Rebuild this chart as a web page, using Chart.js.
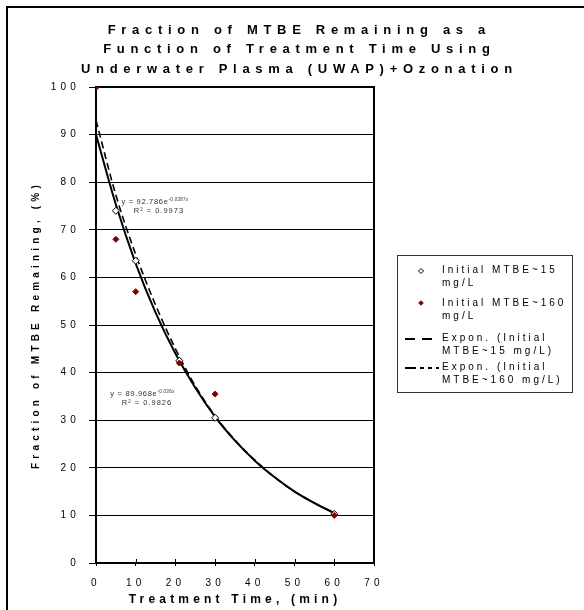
<!DOCTYPE html>
<html><head><meta charset="utf-8">
<script src="https://cdn.jsdelivr.net/npm/chart.js@4.4.1/dist/chart.umd.min.js"></script>
<style>html,body{margin:0;padding:0;background:#fff;}#wrap{position:relative;width:584px;height:610px;}</style>
</head><body><div id="wrap"><canvas id="c" width="584" height="610"></canvas></div>
<script>
// ---- data ----
const titleLines = ['Fraction of MTBE Remaining as a', 'Function of Treatment Time Using', 'Underwater Plasma (UWAP)+Ozonation'];
const xTitle = 'Treatment Time, (min)';
const yTitle = 'Fraction of MTBE Remaining, (%)';
const legendNames = [['Initial MTBE~15', 'mg/L'], ['Initial MTBE~160', 'mg/L'], ['Expon. (Initial', 'MTBE~15 mg/L)'], ['Expon. (Initial', 'MTBE~160 mg/L)']];
const timeLow = [0, 5, 10, 21, 30, 60];
const remainLow = [100, 74, 63.5, 42.5, 30.5, 10.3];
const timeHigh = [0, 5, 10, 21, 30, 60];
const remainHigh = [100, 68, 57, 42, 35.5, 10];
const trendTime = [0, 5, 10, 15, 20, 25, 30, 35, 40, 45, 50, 55, 60];
const trendLow = [93.0, 77.3, 64.8, 54.2, 45.0, 37.2, 30.9, 25.8, 21.6, 18.0, 15.0, 12.6, 10.5];
const trendHigh = [90.0, 75.3, 62.9, 52.6, 44.0, 36.8, 30.7, 25.7, 21.5, 18.0, 15.0, 12.6, 10.5];
const xTicks = [0, 10, 20, 30, 40, 50, 60, 70];
const yTicks = [0, 10, 20, 30, 40, 50, 60, 70, 80, 90, 100];
const eqLow = ['y = 92.786e', '-0.0387x', 'R\u00B2 = 0.9973'];
const eqHigh = ['y = 89.968e', '-0.036x', 'R\u00B2 = 0.9826'];

const FONT = "'Liberation Sans', Arial, sans-serif";
Chart.defaults.font.family = FONT;
Chart.defaults.color = '#000';

const pts = (xs, ys) => xs.map((x, i) => ({x: x, y: ys[i]}));

const spacingPlugin = {
  id: 'spacing',
  beforeUpdate(chart) { chart.ctx.letterSpacing = '4.2px'; },
  beforeDraw(chart) {
    const ctx = chart.ctx;
    ctx.letterSpacing = '4.2px';
    ctx.save(); ctx.fillStyle = '#fff'; ctx.fillRect(0, 0, chart.width, chart.height); ctx.restore();
  }
};

const framePlugin = {
  id: 'frame',
  beforeDatasetsDraw(chart) {
    const {ctx, chartArea: a, scales: {x}} = chart;
    ctx.save();
    ctx.strokeStyle = '#000'; ctx.lineWidth = 2;
    ctx.strokeRect(a.left, a.top, a.right - a.left, a.bottom - a.top);
    ctx.lineWidth = 1;
    x.ticks.forEach(t => {
      const px = Math.round(x.getPixelForValue(t.value)) + 0.5;
      ctx.beginPath(); ctx.moveTo(px, a.bottom - 4); ctx.lineTo(px, a.bottom); ctx.stroke();
    });
    ctx.restore();
  },
  afterDraw(chart) {
    const ctx = chart.ctx;
    ctx.save();
    ctx.fillStyle = '#000';
    ctx.fillRect(6, 6, chart.width - 6, 2);
    ctx.fillRect(6, 6, 2, chart.height - 6);
    ctx.restore();
  }
};

const titlePlugin = {
  id: 'titleText',
  afterDraw(chart) {
    const ctx = chart.ctx;
    ctx.save();
    ctx.letterSpacing = '5.7px';
    ctx.font = 'bold 13px ' + FONT;
    ctx.fillStyle = '#000';
    ctx.textAlign = 'center';
    ctx.textBaseline = 'alphabetic';
    const ys = [33.5, 53, 72.5];
    titleLines.forEach((t, i) => ctx.fillText(t, 296.5 + 2.85, ys[i]));
    ctx.restore();
  }
};

const annotPlugin = {
  id: 'annot',
  afterDatasetsDraw(chart) {
    const {ctx, scales: {x, y}} = chart;
    const draw = (eq, ax, ay, rx, ry) => {
      const px = x.getPixelForValue(ax), py = y.getPixelForValue(ay);
      ctx.save();
      ctx.fillStyle = '#333';
      ctx.textBaseline = 'middle';
      ctx.textAlign = 'left';
      ctx.letterSpacing = '0.7px';
      ctx.font = '7.5px ' + FONT;
      ctx.fillText(eq[0], px, py);
      const w = ctx.measureText(eq[0]).width;
      ctx.font = '4.5px ' + FONT;
      ctx.letterSpacing = '0.3px';
      ctx.fillText(eq[1], px + w, py - 2);
      ctx.font = '7.5px ' + FONT;
      ctx.letterSpacing = '1px';
      ctx.fillText(eq[2], x.getPixelForValue(rx), y.getPixelForValue(ry));
      ctx.restore();
    };
    draw(eqLow, 6.4, 75.8, 9.5, 73.9);
    draw(eqHigh, 3.6, 35.6, 6.5, 33.7);
  }
};

const legendPlugin = {
  id: 'customLegend',
  afterDraw(chart) {
    const ctx = chart.ctx;
    ctx.save();
    ctx.strokeStyle = '#333'; ctx.lineWidth = 1;
    ctx.strokeRect(397.5, 255.5, 175, 137);
    ctx.font = '10px ' + FONT;
    ctx.letterSpacing = '3px';
    ctx.fillStyle = '#000';
    ctx.textBaseline = 'middle';
    ctx.textAlign = 'left';
    const ys = [270, 303, 338, 367];
    legendNames.forEach((lines, i) => {
      lines.forEach((t, j) => ctx.fillText(t, 442, ys[i] + j * 13.5));
    });
    const diamond = (cx, cy, r, fill, stroke) => {
      ctx.beginPath();
      ctx.moveTo(cx, cy - r); ctx.lineTo(cx + r, cy); ctx.lineTo(cx, cy + r); ctx.lineTo(cx - r, cy); ctx.closePath();
      ctx.fillStyle = fill; ctx.fill();
      ctx.strokeStyle = stroke; ctx.lineWidth = 1; ctx.stroke();
    };
    diamond(421, ys[0] + 1, 2.5, '#fff', '#000');
    diamond(421, ys[1], 2.3, '#800000', '#800000');
    ctx.strokeStyle = '#000'; ctx.lineWidth = 2;
    ctx.setLineDash([10, 7]);
    ctx.beginPath(); ctx.moveTo(405, ys[2] + 1); ctx.lineTo(433, ys[2] + 1); ctx.stroke();
    ctx.setLineDash([11, 4, 4, 4, 4, 4]);
    ctx.beginPath(); ctx.moveTo(405, ys[3] + 1); ctx.lineTo(439, ys[3] + 1); ctx.stroke();
    ctx.restore();
  }
};

new Chart(document.getElementById('c'), {
  type: 'scatter',
  data: {
    datasets: [
      {label: legendNames[1].join(' '), data: pts(timeHigh, remainHigh), order: 0,
       pointStyle: 'rectRot', pointRadius: 3, pointBackgroundColor: '#800000', pointBorderColor: '#800000', pointBorderWidth: 1, showLine: false},
      {label: legendNames[0].join(' '), data: pts(timeLow, remainLow), order: 1,
       pointStyle: 'rectRot', pointRadius: 3.5, pointBackgroundColor: '#fff', pointBorderColor: '#000', pointBorderWidth: 1, showLine: false},
      {label: legendNames[2].join(' '), data: pts(trendTime, trendLow), order: 2,
       showLine: true, pointRadius: 0, borderColor: '#000', borderWidth: 1.6, borderDash: [7, 4], cubicInterpolationMode: 'monotone'},
      {label: legendNames[3].join(' '), data: pts(trendTime, trendHigh), order: 3,
       showLine: true, pointRadius: 0, borderColor: '#000', borderWidth: 2, cubicInterpolationMode: 'monotone'}
    ]
  },
  options: {
    responsive: false, animation: false, devicePixelRatio: 1,
    layout: {padding: {left: 8, top: 87, right: 210, bottom: 0}},
    plugins: {legend: {display: false}, title: {display: false}, tooltip: {enabled: false}},
    scales: {
      x: {
        type: 'linear', min: 0, max: 70,
        afterBuildTicks: s => { s.ticks = xTicks.map(v => ({value: v})); },
        afterFit: s => { s.height = 47; },
        grid: {display: true, drawOnChartArea: false, drawTicks: true, tickLength: 3, color: '#000', lineWidth: 1},
        border: {display: true, color: '#000', width: 2},
        ticks: {font: {size: 10}, color: '#000', padding: 11, maxRotation: 0, autoSkip: false},
        title: {display: true, text: xTitle, font: {size: 12, weight: 'bold'}, color: '#000', padding: {top: 0, bottom: 3}}
      },
      y: {
        type: 'linear', min: 0, max: 100,
        afterBuildTicks: s => { s.ticks = yTicks.map(v => ({value: v})); },
        afterFit: s => { s.width = 88; },
        grid: {color: '#000', lineWidth: 1, tickLength: 7, drawTicks: true},
        border: {display: true, color: '#000', width: 2},
        ticks: {font: {size: 10}, color: '#000', padding: 9, autoSkip: false},
        title: {display: true, text: yTitle, font: {size: 10, weight: 'bold'}, color: '#000', padding: {top: 22, bottom: 0}}
      }
    }
  },
  plugins: [spacingPlugin, framePlugin, titlePlugin, annotPlugin, legendPlugin]
});
</script>
</body></html>
